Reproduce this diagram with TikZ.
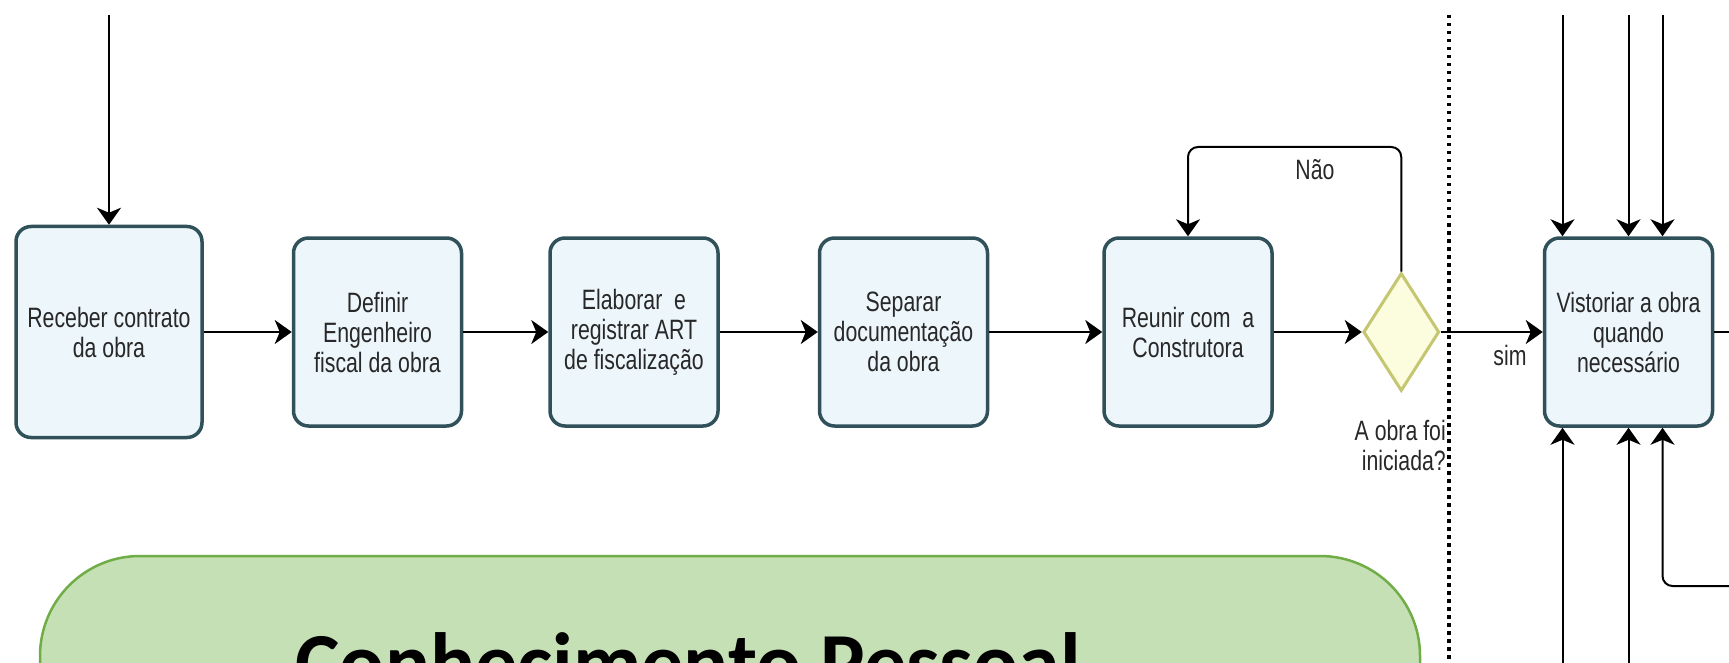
\documentclass[tikz,border=0pt]{standalone}
\usepackage{fontspec}
\usepackage{tikz}
\usetikzlibrary{positioning,shapes.geometric,arrows.meta}
\newfontfamily\boxfamily[FakeStretch=0.76]{Liberation Sans}
\newfontfamily\knowfamily{Carlito}
\newcommand{\procfont}{\boxfamily\fontsize{28}{30}\selectfont}
\newcommand{\knowfont}{\knowfamily\bfseries\fontsize{84}{90}\selectfont}
\definecolor{boxline}{RGB}{48,80,90}
\definecolor{boxfill}{RGB}{236,246,251}
\definecolor{gateline}{RGB}{196,198,112}
\definecolor{gatefill}{RGB}{252,252,222}
\definecolor{knowfill}{RGB}{197,224,180}
\definecolor{knowline}{RGB}{112,173,71}
\definecolor{txtgray}{RGB}{40,40,40}

\begin{document}
\begin{tikzpicture}[x=1pt,y=-1pt,inner sep=0pt]
\tikzstyle{proc}=[rectangle, rounded corners=15pt, line width=3.5pt, draw=boxline, fill=boxfill, minimum width=168pt, minimum height=188pt, align=center, font=\procfont, text=txtgray]
\tikzstyle{gate}=[diamond, line width=3pt, draw=gateline, fill=gatefill, minimum width=76pt, minimum height=118pt]
\tikzstyle{connect}=[-{Stealth[length=17pt,width=24pt,inset=5pt]}, line width=2pt]
\tikzstyle{plain}=[line width=2pt]
\tikzstyle{lane}=[line width=3.5pt, dash pattern=on 3.5pt off 4.5pt]
\tikzstyle{lbl}=[font=\procfont, text=txtgray, align=right]
\tikzstyle{know}=[draw=knowline, line width=2.5pt, fill=knowfill, rounded corners=100pt]
\useasboundingbox (0,0) rectangle (1729,663);
\clip (0,0) rectangle (1729,663);
% knowledge box
\draw[know] (40,556) rectangle (1420,800);
\node[font=\knowfont, anchor=base] (kp) at (688,691) {Conhecimento Pessoal};
% swimlane border
\coordinate (lanetop) at (1449,15);
\coordinate (lanebot) at (1449,680);
\draw[lane] (lanetop) -- (lanebot);
% tasks
\node[proc, minimum width=186pt, minimum height=211pt] (rec) at (109,332) {Receber contrato\\da obra};
\node[proc] (def) [right=88pt of rec] {Definir\\Engenheiro\\fiscal da obra};
\node[proc] (ela) [right=85pt of def] {Elaborar\ \ e\\registrar ART\\de fiscalização};
\node[proc] (sep) [right=98pt of ela] {Separar\\documentação\\da obra};
\node[proc] (reu) [right=113pt of sep] {Reunir com\ \ a\\Construtora};
\node[gate] (ini) [right=88pt of reu] {};
\node[proc] (vis) [right=102pt of ini] {Vistoriar a obra\\quando\\necessário};
\node[lbl, anchor=north east] (qini) at (1446,420) {A obra foi\\iniciada?};
\node[lbl] (nao) at (1315,170) {Não};
\node[lbl] (sim) at (1510,355) {sim};
% flow
\coordinate (top) at (0,15);
\coordinate (bot) at (0,680);
\coordinate (start) at (rec.north |- top);
\path (start) edge[connect] (rec.north);
\path (rec) edge[connect] (def);
\path (def) edge[connect] (ela);
\path (ela) edge[connect] (sep);
\path (sep) edge[connect] (reu);
\path (reu) edge[connect] (ini);
\path (ini) edge[connect] (vis);
\coordinate (looptop) at (1300,147);
\draw[connect, rounded corners=10pt] (ini.north) |- (looptop) -| (reu.north);
% inputs of the inspection
\foreach \dx [count=\i] in {-66,0,34} {
  \path ([xshift=\dx pt]vis.north) coordinate (vn\i) ([xshift=\dx pt]vis.south) coordinate (vs\i);
  \coordinate (vt\i) at (vn\i |- top);
  \path (vt\i) edge[connect] (vn\i);
}
\foreach \i in {1,2} {
  \coordinate (vb\i) at (vs\i |- bot);
  \path (vb\i) edge[connect] (vs\i);
}
\coordinate (back) at (1740,586);
\draw[connect, rounded corners=10pt] (back) -| (vs3);
\coordinate (out) at (1740,0);
\draw[plain] (vis.east) -- (vis.east -| out);
\end{tikzpicture}
\end{document}
